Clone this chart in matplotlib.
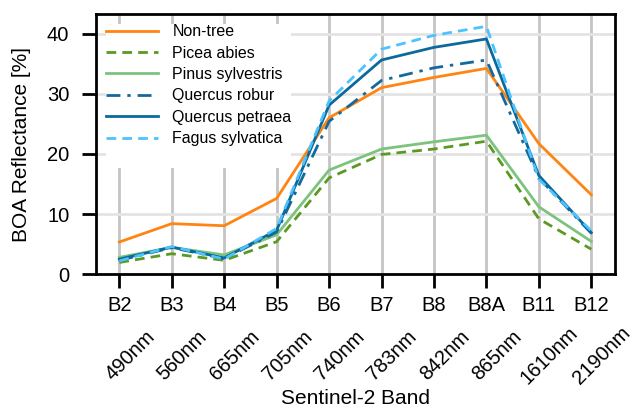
import matplotlib
matplotlib.use("Agg")
import matplotlib.pyplot as plt
import matplotlib.transforms as mtransforms
from matplotlib.lines import Line2D

# Bandas do Sentinel-2 e comprimentos de onda centrais.
BANDAS = ["B2", "B3", "B4", "B5", "B6", "B7", "B8", "B8A", "B11", "B12"]
COMPRIMENTOS = ["490nm", "560nm", "665nm", "705nm", "740nm", "783nm",
                "842nm", "865nm", "1610nm", "2190nm"]

# Reflectancia media por classe.
NON_TREE = [5.35, 8.4, 8.05, 12.6, 26.0, 31.0, 32.7, 34.2, 21.7, 13.2]
PICEA_ABIES = [1.95, 3.4, 2.3, 5.4, 16.0, 19.9, 20.8, 22.1, 9.2, 4.15]
PINUS_SYLVESTRIS = [2.8, 4.45, 3.2, 6.55, 17.3, 20.8, 22.0, 23.1, 11.2, 5.45]
QUERCUS_ROBUR = [2.3, 4.4, 2.6, 7.0, 25.4, 32.2, 34.3, 35.6, 16.0, 6.8]
QUERCUS_PETRAEA = [2.5, 4.5, 2.7, 7.3, 28.1, 35.6, 37.7, 39.1, 16.4, 6.9]
FAGUS_SYLVATICA = [2.2, 4.6, 2.5, 7.6, 28.8, 37.4, 39.7, 41.2, 15.8, 7.2]

SERIES = [
    ("Non-tree", NON_TREE, "#ff8412", "-"),
    ("Picea abies", PICEA_ABIES, "#5a9a22", (0, (3.5, 2.2))),
    ("Pinus sylvestris", PINUS_SYLVESTRIS, "#7cc37e", "-"),
    ("Quercus robur", QUERCUS_ROBUR, "#15699a", (0, (5, 2.5, 1.2, 2.5))),
    ("Quercus petraea", QUERCUS_PETRAEA, "#0b6a9c", "-"),
    ("Fagus sylvatica", FAGUS_SYLVATICA, "#4cc3ff", (0, (3.5, 2.2))),
]

plt.rcParams["font.family"] = ["Liberation Sans", "DejaVu Sans"]

fig = plt.figure(figsize=(6.3, 4.08), dpi=100)
ax = fig.add_axes([0.152, 0.328, 0.824, 0.637])

x = list(range(len(BANDAS)))
for nome, valores, cor, estilo in SERIES:
    ax.plot(x, valores, color=cor, linestyle=estilo, linewidth=2, label=nome, zorder=3)

ax.set_ylim(0, 43.2)
ax.set_yticks([0, 10, 20, 30, 40])
ax.set_xticks(x)
ax.set_xticklabels(BANDAS)

# Grade vertical mais escura que a horizontal.
ax.xaxis.grid(True, color="#c4c4c4", linewidth=2, zorder=0)
ax.yaxis.grid(True, color="#e4e4e4", linewidth=2, zorder=0)
ax.set_axisbelow(True)

for spine in ax.spines.values():
    spine.set_linewidth(2)
ax.tick_params(axis="both", which="major", length=10, width=2,
               labelsize=14.5, direction="out")
ax.tick_params(axis="x", pad=6)
ax.tick_params(axis="y", pad=9)

# Segunda linha de rotulos com o comprimento de onda.
trans = mtransforms.blended_transform_factory(ax.transData, ax.transAxes)
for i, comp in enumerate(COMPRIMENTOS):
    ax.annotate(comp, xy=(i, 0), xycoords=trans, xytext=(7.7, -58.3),
                textcoords="offset points", rotation=45, ha="center",
                va="center", fontsize=14.5)

ax.set_xlabel("Sentinel-2 Band", fontsize=15)
ax.xaxis.set_label_coords(0.5, -0.442)
ax.set_ylabel("BOA Reflectance [%]", fontsize=15)
ax.yaxis.set_label_coords(-0.124, 0.5)

# A caixa da legenda na referencia tem uma linha vazia no final.
handles, labels = ax.get_legend_handles_labels()
handles.append(Line2D([], [], alpha=0))
labels.append(" ")
leg = ax.legend(handles, labels, loc="upper left", fontsize=11.5,
                frameon=True, framealpha=1, edgecolor="none",
                facecolor="white", handlelength=3.27, handletextpad=0.9,
                labelspacing=0.4, borderaxespad=0.62, borderpad=0.0)
leg.set_zorder(4)

fig.savefig("out.png", dpi=100)
plt.close(fig)
